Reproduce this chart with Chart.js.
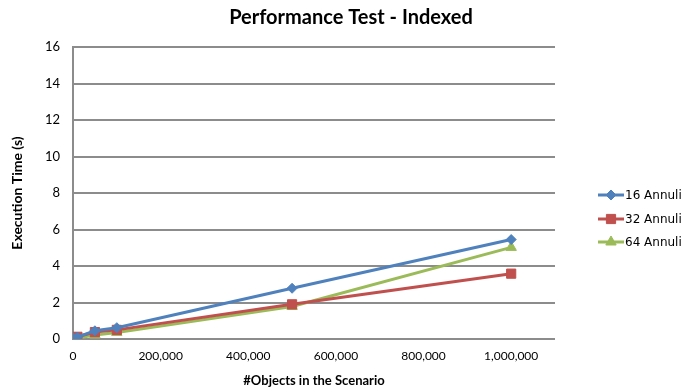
<!DOCTYPE html>
<html>
<head>
<meta charset="utf-8">
<script src="https://cdn.jsdelivr.net/npm/chart.js@4"></script>
<style>
  html, body { margin: 0; padding: 0; background: #fff; }
  #wrap { width: 683px; height: 392px; position: relative; }
</style>
</head>
<body>
<div id="wrap"><canvas id="perfChart"></canvas></div>
<script>
// Number of objects in the scenario (x values)
const objectCounts = [1000, 10000, 50000, 100000, 500000, 1000000];

// Execution time in seconds for each annuli setting
const annuli16 = [0.05, 0.1, 0.45, 0.62, 2.78, 5.45];
const annuli32 = [0.08, 0.12, 0.38, 0.5, 1.9, 3.58];
const annuli64 = [0.02, 0.05, 0.22, 0.36, 1.78, 5.02];

const seriesNames = ['16 Annuli', '32 Annuli', '64 Annuli'];
const yTicks = [0, 2, 4, 6, 8, 10, 12, 14, 16];
const xTicks = [0, 200000, 400000, 600000, 800000, 1000000];

const chartTitle = 'Performance Test - Indexed';
const xTitle = '#Objects in the Scenario';
const yTitle = 'Execution Time (s)';

// Office 2007 palette
const colors = ['#4f81bd', '#c0504d', '#9bbb59'];
const markers = [
    { style: 'rectRot', radius: 5 },
    { style: 'rect', radius: 6.5 },
    { style: 'triangle', radius: 6 }
];

function toPoints(values)
{
    return values.map((v, i) => ({ x: objectCounts[i], y: v }));
}

const allSeries = [annuli16, annuli32, annuli64];

const datasets = allSeries.map((values, i) => ({
    label: seriesNames[i],
    data: toPoints(values),
    borderColor: colors[i],
    backgroundColor: colors[i],
    borderWidth: 3,
    pointStyle: markers[i].style,
    pointRadius: markers[i].radius,
    pointBorderWidth: 1,
    pointBackgroundColor: colors[i],
    pointBorderColor: colors[i],
    showLine: true,
    tension: 0
}));

// Title drawn at a fixed spot, and a legend showing line + marker
const decorPlugin = {
    id: 'decor',
    afterDraw(chart) {
        const ctx = chart.ctx;
        ctx.save();
        ctx.fillStyle = '#000';
        ctx.font = 'bold 20px Lato';
        ctx.textAlign = 'center';
        ctx.textBaseline = 'middle';
        ctx.fillText(chartTitle, 351, 18);

        const legendY = [195, 219, 242];
        ctx.font = '12px "DejaVu Sans"';
        ctx.textAlign = 'left';
        seriesNames.forEach((name, i) => {
            const y = legendY[i];
            ctx.strokeStyle = colors[i];
            ctx.lineWidth = 3;
            ctx.beginPath();
            ctx.moveTo(598, y);
            ctx.lineTo(624, y);
            ctx.stroke();
            ctx.fillStyle = colors[i];
            ctx.strokeStyle = colors[i];
            ctx.lineWidth = 1;
            Chart.helpers.drawPoint(ctx, {
                pointStyle: markers[i].style,
                radius: markers[i].radius,
                rotation: 0,
                borderWidth: 1
            }, 611, y);
            ctx.fillStyle = '#000';
            ctx.fillText(name, 625, y + 1);
        });
        ctx.restore();
    }
};

const ctx = document.getElementById('perfChart').getContext('2d');
const chart = new Chart(ctx, {
    type: 'scatter',
    data: { datasets: datasets },
    options: {
        responsive: true,
        maintainAspectRatio: false,
        animation: false,
        layout: { padding: { top: 47, right: 128, left: 0, bottom: 0 } },
        plugins: {
            legend: { display: false },
            title: { display: false },
            tooltip: { enabled: false }
        },
        scales: {
            x: {
                type: 'linear',
                min: 0,
                max: 1100000,
                afterFit: (scale) => { scale.height = 53; },
                afterBuildTicks: (scale) => {
                    scale.ticks = xTicks.map(v => ({ value: v }));
                },
                ticks: {
                    color: '#000',
                    padding: 10,
                    font: { family: 'Lato', size: 12 },
                    maxRotation: 0,
                    callback: (v) => v.toLocaleString('en-US')
                },
                grid: { display: false, drawTicks: false },
                border: { display: false },
                title: {
                    display: true,
                    text: xTitle,
                    color: '#000',
                    font: { family: 'Lato', size: 13, weight: 'bold' },
                    padding: { top: 0, bottom: 3 }
                }
            },
            y: {
                min: 0,
                max: 16,
                afterFit: (scale) => { scale.width = 73; },
                afterBuildTicks: (scale) => {
                    scale.ticks = yTicks.map(v => ({ value: v }));
                },
                ticks: {
                    color: '#000',
                    padding: 13,
                    font: { family: 'Lato', size: 13 }
                },
                grid: {
                    color: '#8c8c8c',
                    lineWidth: 2,
                    drawTicks: false
                },
                border: { display: true, color: '#8c8c8c', width: 2 },
                title: {
                    display: true,
                    text: yTitle,
                    color: '#000',
                    font: { family: 'Lato', size: 14, weight: 'bold' },
                    padding: { top: 9, bottom: 0 }
                }
            }
        }
    },
    plugins: [decorPlugin]
});
</script>
</body>
</html>
